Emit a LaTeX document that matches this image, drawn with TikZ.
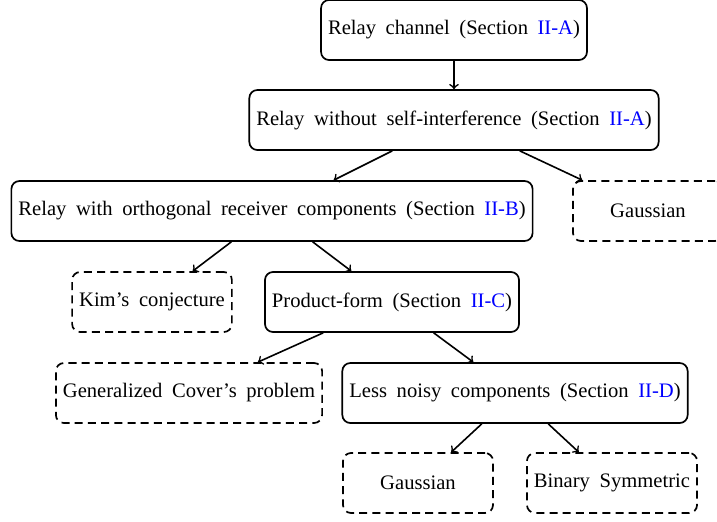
\documentclass[tikz,border=0pt]{standalone}
\usepackage{fontspec}
\setmainfont{Liberation Serif}
\usepackage{tikz}
\newcommand{\secnum}[1]{\textcolor{blue}{#1}}
\newcommand{\boxfont}{\fontsize{10.3}{12}\selectfont\spaceskip 4.8pt plus 1pt\relax}

\begin{document}
\begin{tikzpicture}[x=0.5pt, y=-0.5pt, >=to,
		topic/.style={draw, line width=0.85pt, rounded corners=4pt, minimum height=30pt, minimum width=75pt, inner xsep=3.5pt, font=\boxfont},
		open/.style={topic, dash pattern=on 4pt off 2.6pt},
		link/.style={->, line width=0.8pt}]
	\useasboundingbox (0,0) rectangle (717,521);

	% Nodes
	\node[topic] (relay) at (454,30) {Relay channel (Section \secnum{II-A})};
	\node[topic] (nosi) at (454,120) {Relay without self-interference (Section \secnum{II-A})};
	\node[topic] (orth) at (272,211) {Relay with orthogonal receiver components (Section \secnum{II-B})};
	\node[open] (gaussA) at (648,211) {Gaussian};
	\node[open] (kim) at (152,302) {Kim's conjecture};
	\node[topic] (prod) at (392,302) {Product-form (Section \secnum{II-C})};
	\node[open] (cover) at (189,393) {Generalized Cover's problem};
	\node[topic] (less) at (515,393) {Less noisy components (Section \secnum{II-D})};
	\node[open] (gaussB) at (418,483) {Gaussian};
	\node[open] (bsc) at (612,483) {Binary Symmetric};

	% Arrows
	\draw[link] (relay) -- (nosi);
	\draw[link] (nosi) -- (orth);
	\draw[link] (nosi) -- (gaussA);
	\draw[link] (orth) -- (kim);
	\draw[link] (orth) -- (prod);
	\draw[link] (prod) -- (cover);
	\draw[link] (prod) -- (less);
	\draw[link] (less) -- (gaussB);
	\draw[link] (less) -- (bsc);
\end{tikzpicture}
\end{document}
